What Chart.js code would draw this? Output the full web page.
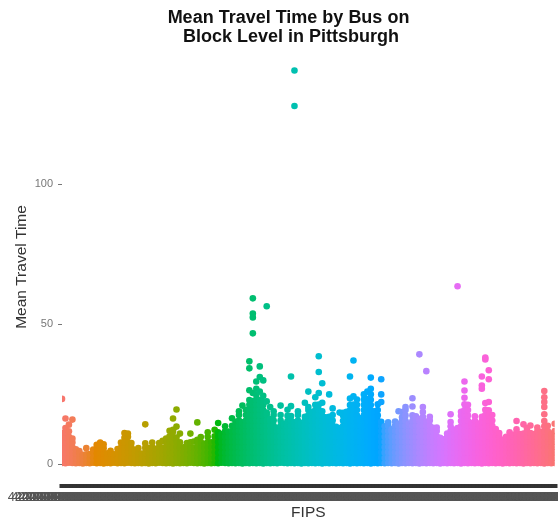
<!DOCTYPE html>
<html>
<head>
<meta charset="utf-8">
<script src="https://cdn.jsdelivr.net/npm/chart.js@4.4.1/dist/chart.umd.min.js"></script>
<style>
  html, body { margin: 0; padding: 0; background: #ffffff; }
  #wrap { width: 558px; height: 524px; }
</style>
</head>
<body>
<div id="wrap"><canvas id="chart" width="558" height="524"></canvas></div>
<script>
// Heading, axis titles and tick values
const titleLines = ["Mean Travel Time by Bus on", " Block Level in Pittsburgh"];
const xTitle = "FIPS";
const yTitle = "Mean Travel Time";
const yTicks = [0, 50, 100];

// Census tracts, in FIPS order (Allegheny County, PA)
const tracts = [
  "010300","020100","020300","030500","040200","040400","040500","040600","040900","050100",
  "050600","050900","051000","051100","060300","060500","070300","070500","070600","070800",
  "070900","080200","080400","080600","080700","080900","090100","090200","090300","100500",
  "101100","101400","101600","101700","101800","110200","110600","111300","111400","111500",
  "120300","120400","120700","120800","130100","130200","130300","130400","130600","130700",
  "130800","130900","140100","140200","140300","140400","140500","140800","141000","141100",
  "141200","141300","141400","150300","160300","160700","160800","160900","161000","161100",
  "161300","161400","161600","161800","170200","170600","180100","180300","180700","190300",
  "190500","191100","191500","191600","191700","191800","191900","192000","201300","201800",
  "202200","202300","202700","203000","204000","206300","210500","210600","210800","220600",
  "230600","240600","250300","250700","250800","250900","261100","261300","261400","261500",
  "262000","270100","270300","270400","270500","270600","271800","271900","280100","280400",
  "280500","280700","290100","290400","300100","300200","305000","310300","320400","320600",
  "320800","321000","321200","321400","321500","321600","321700","561000","562300","562600",
  "562800","562900","563000"
];
const fipsLabels = tracts.map(t => "42003" + t + "1000");

// Mean travel time (minutes) of the blocks in each FIPS group
const travelTime = [
  "0.5 2.4 4.3 6.1 8 9.8 11.2 23.4",
  "0.4 2.2 4.1 6 7.9 9.7 11.5 13 16.4",
  "0.6 2.5 4.4 6.2 8.1 9.9 11.8 14.2",
  "0.5 2.3 4.2 6.1 7.8 9.2 16",
  "0.4 2.1 3.9 5.4",
  "0.5 2.3 4.0 4.8",
  "0.3 2.1 3.4",
  "0.5 2.2 3.6 5.8",
  "0.4 2.1 3.7",
  "0.6 2.4 4.2 5.3",
  "0.4 2.2 4.0 5.6 7.0",
  "0.5 2.3 4.1 5.9 7.8",
  "0.3 2.1 3.9 5.8 7.2",
  "0.5 2.4 4.0",
  "0.4 2.2 3.9 4.9",
  "0.6 2.3 3.6",
  "0.4 2.2 4.0 5.5",
  "0.5 2.3 4.1 6.0 7.8",
  "0.4 2.2 4.1 6.0 7.9 9.5 11.2",
  "0.6 2.4 4.3 6.1 8.0 9.9 11.0",
  "0.5 2.3 4.2 6.0 7.6",
  "0.4 2.2 4.0 5.2",
  "0.5 2.3 4.0 5.8",
  "0.4 2.1 3.9",
  "0.5 2.3 4.1 5.9 7.5 14.3",
  "0.3 2.2 4.0 5.8",
  "0.5 2.3 4.2 6.1 7.8",
  "0.4 2.2 4.0 5.6",
  "0.6 2.4 4.3 6.2 7.6",
  "0.5 2.3 4.1 6.0 8.4",
  "0.4 2.2 4.1 6.0 7.9 9.2",
  "0.5 2.4 4.3 6.2 8.1 10.0 12.0",
  "0.3 2.2 4.1 6.0 7.9 9.8 11.7 12.4 16.4",
  "0.5 2.4 4.3 6.2 8.1 9.6 13.5 19.6",
  "0.4 2.3 4.1 6.0 7.9 11.0",
  "0.5 2.3 4.2 6.1",
  "0.4 2.2 4.0 5.9 7.6",
  "0.6 2.4 4.3 6.2 7.9 11.0",
  "0.5 2.3 4.2 6.0 8.2",
  "0.4 2.2 4.1 6.0 7.9 8.8 15.0",
  "0.5 2.4 4.3 6.2 8.0 9.8",
  "0.3 2.2 4.0 5.9 7.4",
  "0.5 2.3 4.2 6.1 8.0 9.9 11.5",
  "0.4 2.2 4.1 6.0 7.9",
  "0.5 2.4 4.3 6.2 8.1 10.0 12.4",
  "0.4 2.3 4.2 6.1 8.0 9.9 11.5 14.8",
  "0.6 2.4 4.3 6.2 8.1 10.0 10.8",
  "0.5 2.3 4.2 6.1 8.0 9.9 11.8 13.6",
  "0.4 2.2 4.1 6.0 7.9 9.8 11.7",
  "0.5 2.4 4.3 6.2 8.1 10.0 11.9 13.8 16.5",
  "0.4 2.3 4.2 6.1 8.0 9.9 11.8 13.7 15.2",
  "0.5 2.4 4.3 6.2 8.1 10.0 11.9 13.8 15.7 17.6 19.0",
  "0.3 2.2 4.1 6.0 7.9 9.8 11.7 13.6 15.0 21.0",
  "0.5 2.4 4.3 6.2 8.1 10.0 11.9 13.8 15.7 17.6 19.5",
  "0.4 2.3 4.2 6.1 8.0 9.9 11.8 13.7 15.6 17.5 19.4 21.3 23.0 26.5 34.3 36.8",
  "0.5 2.4 4.3 6.2 8.1 10.0 11.9 13.8 15.7 17.6 19.5 21.4 22.6 25.5 46.8 52.5 53.9 59.3",
  "0.4 2.3 4.2 6.1 8.0 9.9 11.8 13.7 15.6 17.5 19.4 21.3 23.2 24.8 27.0 29.6",
  "0.5 2.4 4.3 6.2 8.1 10.0 11.9 13.8 15.7 17.6 19.5 21.4 23.0 26.0 31.2 35.0",
  "0.3 2.2 4.1 6.0 7.9 9.8 11.7 13.6 15.5 17.4 19.3 21.2 22.5 24.5 30.0",
  "0.5 2.4 4.3 6.2 8.1 10.0 11.9 13.8 15.7 17.6 18.5 22.5 56.5",
  "0.4 2.3 4.2 6.1 8.0 9.9 11.8 13.7 15.6 16.2 20.5",
  "0.5 2.4 4.3 6.2 8.1 10.0 11.9 13.8 15.7 17.6 19.0",
  "0.4 2.3 4.2 6.1 8.0 9.9 11.8 13.0",
  "0.6 2.4 4.3 6.2 8.1 10.0 11.9 13.8 15.7 17.6 21.0",
  "0.5 2.3 4.2 6.1 8.0 9.9 11.8 13.7 14.5",
  "0.4 2.2 4.1 6.0 7.9 9.8 11.7 13.6 15.5 17.4 19.5",
  "0.5 2.4 4.3 6.2 8.1 10.0 11.9 13.8 15.7 17.3 20.8 31.4",
  "0.4 2.3 4.2 6.1 8.0 9.9 11.8 13.7 15.0 128 140.7",
  "0.5 2.4 4.3 6.2 8.1 10.0 11.9 13.8 15.7 17.6 19.0",
  "0.3 2.2 4.1 6.0 7.9 9.8 11.7 13.6 14.8",
  "0.5 2.4 4.3 6.2 8.1 10.0 11.9 13.8 15.7 17.0 22.0",
  "0.4 2.3 4.2 6.1 8.0 9.9 11.8 13.7 15.6 17.5 19.4 20.5 26.0",
  "0.5 2.4 4.3 6.2 8.1 10.0 11.9 13.8 15.7 17.6 18.6",
  "0.4 2.3 4.2 6.1 8.0 9.9 11.8 13.7 15.6 17.5 19.4 21.3 24.0",
  "0.5 2.4 4.3 6.2 8.1 10.0 11.9 13.8 15.7 17.6 19.5 21.4 25.5 33.0 38.6",
  "0.3 2.2 4.1 6.0 7.9 9.8 11.7 13.6 15.5 17.4 19.0 22.0 29.0",
  "0.5 2.4 4.3 6.2 8.1 10.0 11.9 13.8 15.7 16.8",
  "0.4 2.3 4.2 6.1 8.0 9.9 11.8 13.7 15.6 17.0 25.0",
  "0.5 2.4 4.3 6.2 8.1 10.0 11.9 13.8 15.7 17.6 20.0",
  "0.4 2.3 4.2 6.1 8.0 9.9 11.8 13.4",
  "0.5 2.4 4.3 6.2 8.1 10.0 11.9 13.0 18.5",
  "0.4 2.3 4.2 6.1 8.0 9.9 11.8 13.7 15.6 17.5 18.4",
  "0.5 2.4 4.3 6.2 8.1 10.0 11.9 13.8 15.7 17.6 18.8",
  "0.3 2.2 4.1 6.0 7.9 9.8 11.7 13.6 15.5 17.4 19.3 21.2 23.5 31.4",
  "0.5 2.4 4.3 6.2 8.1 10.0 11.9 13.8 15.7 17.6 19.5 21.4 24.3 37.1",
  "0.4 2.3 4.2 6.1 8.0 9.9 11.8 13.7 15.6 17.5 19.4 21.3 23.2",
  "0.5 2.4 4.3 6.2 8.1 10.0 11.9 13.8 15.7 16.5",
  "0.4 2.3 4.2 6.1 8.0 9.9 11.8 13.7 15.6 17.5 19.4 21.3 23.2 25.0",
  "0.5 2.4 4.3 6.2 8.1 10.0 11.9 13.8 15.7 17.6 19.5 21.4 23.3 26.0",
  "0.3 2.2 4.1 6.0 7.9 9.8 11.7 13.6 15.5 17.4 19.3 21.2 23.1 25.0 27.0 31.0",
  "0.5 2.4 4.3 6.2 8.1 10.0 11.9 13.8 15.7 17.6 19.0",
  "0.4 2.3 4.2 6.1 8.0 9.9 11.8 13.7 15.6 17.5 19.4 21.5",
  "0.5 2.4 4.3 6.2 8.1 10.0 11.9 13.8 15.2 22.3 25.0 30.4",
  "0.4 2.3 4.2 6.1 8.0 9.9 11.8 13.6",
  "0.5 2.4 4.3 6.2 8.1 10.0 11.9 13.8 15.0",
  "0.4 2.3 4.2 6.1 8.0 9.9 11.8 12.5",
  "0.5 2.4 4.3 6.2 8.1 10.0 11.9 13.8 15.3",
  "0.3 2.2 4.1 6.0 7.9 9.8 11.7 13.6 14.5 19.0",
  "0.5 2.4 4.3 6.2 8.1 10.0 11.9 13.8 15.7 16.8 18.7",
  "0.4 2.3 4.2 6.1 8.0 9.9 11.8 13.7 15.6 17.5 19.4 20.5",
  "0.5 2.4 4.3 6.2 8.1 10.0 11.9 13.8 14.6",
  "0.4 2.3 4.2 6.1 8.0 9.9 11.8 13.7 15.6 17.5 20.7 23.6",
  "0.5 2.4 4.3 6.2 8.1 10.0 11.9 13.8 15.7 17.2",
  "0.3 2.2 4.1 6.0 7.9 9.8 11.7 13.6 15.5 16.2 39.3",
  "0.5 2.4 4.3 6.2 8.1 10.0 11.9 13.8 15.7 17.0 18.7 20.5",
  "0.4 2.3 4.2 6.1 8.0 9.9 11.8 13.7 15.3 33.3",
  "0.5 2.4 4.3 6.2 8.1 10.0 11.9 13.8 15.7 17.0",
  "0.4 2.3 4.2 6.1 8.0 9.9 11.8 13.1",
  "0.5 2.4 4.3 6.2 8.1 10.0 11.9 13.2",
  "0.3 2.2 4.1 6.0 7.9 9.5",
  "0.5 2.4 4.3 6.2 8.1 9.0",
  "0.4 2.3 4.2 6.1 8.0 9.9 11.0",
  "0.5 2.4 4.3 6.2 8.1 10.0 11.9 13.6 15.1 17.9",
  "0.4 2.3 4.2 6.1 8.0 9.9 11.8 12.4",
  "0.5 2.4 4.3 6.2 8.1 10.0 11.9 13.0 63.6",
  "0.3 2.2 4.1 6.0 7.9 9.8 11.7 13.6 15.5 17.4 18.8",
  "0.5 2.4 4.3 6.2 8.1 10.0 11.9 13.8 15.7 17.6 19.4 21.5 23.8 26.4 29.6",
  "0.4 2.3 4.2 6.1 8.0 9.9 11.8 13.7 15.6 17.5 19.4 21.3",
  "0.5 2.4 4.3 6.2 8.1 10.0 11.9 13.8 14.8",
  "0.4 2.3 4.2 6.1 8.0 9.9 11.8 13.7 15.6 17.2",
  "0.5 2.4 4.3 6.2 8.1 10.0 11.9 13.8 14.6",
  "0.3 2.2 4.1 6.0 7.9 9.8 11.7 13.6 15.5 17.0 27.0 28.2 31.4",
  "0.5 2.4 4.3 6.2 8.1 10.0 11.9 13.8 15.7 17.6 19.5 21.9 37.5 38.2",
  "0.4 2.3 4.2 6.1 8.0 9.9 11.8 13.7 15.6 17.5 19.3 22.3 30.4 33.6",
  "0.5 2.4 4.3 6.2 8.1 10.0 11.9 13.8 15.7 17.6",
  "0.4 2.3 4.2 6.1 8.0 9.9 11.8 12.6",
  "0.5 2.4 4.3 6.2 8.1 10.0 11.2",
  "0.3 2.2 4.1 6.0 7.9 8.8",
  "0.5 2.4 4.3 6.2 8.1 9.9",
  "0.4 2.3 4.2 6.1 8.0 9.9 11.5",
  "0.5 2.4 4.3 6.2 8.1 10.0 10.6",
  "0.4 2.3 4.2 6.1 8.0 9.9 11.2 12.5 15.5",
  "0.5 2.4 4.3 6.2 8.1 10.0 10.8",
  "0.3 2.2 4.1 6.0 7.9 9.8 11.0 14.3",
  "0.5 2.4 4.3 6.2 8.1 10.0 11.9 13.0",
  "0.4 2.3 4.2 6.1 8.0 9.9 11.2 13.9",
  "0.5 2.4 4.3 6.2 8.1 10.0 10.8",
  "0.4 2.3 4.2 6.1 8.0 9.9 11.8 13.2",
  "0.5 2.4 4.3 6.2 8.1 10.0 11.6",
  "0.3 2.2 4.1 6.0 7.9 9.8 11.7 13.6 15.5 17.9 20.5 22.3 24.0 26.2",
  "0.5 2.4 4.3 6.2 8.1 10.0 11.9 13.8",
  "0.4 2.3 4.2 6.1 8.0 9.9 11.0",
  "0.5 2.4 4.3 6.2 8.1 10.0 11.9 14.5"
];

// One point per block, placed at its FIPS group's position
const points = [];
travelTime.forEach((col, i) => {
  col.trim().split(/\s+/).forEach(v => points.push({ x: i, y: parseFloat(v) }));
});

// Polar-Luv (HCL) to sRGB, the default discrete hue scale (c = 100, l = 65)
function hclColor(h, c, l) {
  const rad = h * Math.PI / 180;
  const U = c * Math.cos(rad), V = c * Math.sin(rad);
  const Y = l > 8 ? Math.pow((l + 16) / 116, 3) : l / 903.3;
  const un = 0.1978398, vn = 0.4683363;
  const up = U / (13 * l) + un, vp = V / (13 * l) + vn;
  const X = Y * 9 * up / (4 * vp);
  const Z = Y * (12 - 3 * up - 20 * vp) / (4 * vp);
  const lin = [
     3.240479 * X - 1.537150 * Y - 0.498535 * Z,
    -0.969256 * X + 1.875992 * Y + 0.041556 * Z,
     0.055648 * X - 0.204043 * Y + 1.057311 * Z
  ];
  const rgb = lin.map(t => {
    const g = t <= 0.0031308 ? 12.92 * t : 1.055 * Math.pow(t, 1 / 2.4) - 0.055;
    return Math.round(Math.min(1, Math.max(0, g)) * 255);
  });
  return `rgb(${rgb[0]},${rgb[1]},${rgb[2]})`;
}
const groupColors = fipsLabels.map((_, i) => hclColor(15 + 360 * i / fipsLabels.length, 100, 65));

const FONT = '"Liberation Sans", Arial, Helvetica, sans-serif';

// Two-line bold heading above the panel
const headingPlugin = {
  id: 'heading',
  afterDraw(chart) {
    const c = chart.ctx;
    c.save();
    c.font = 'bold 18px ' + FONT;
    c.fillStyle = '#111111';
    c.textAlign = 'center';
    c.textBaseline = 'alphabetic';
    c.fillText(titleLines[0], 288.5, 23.3);
    c.fillText(titleLines[1], 288.5, 41.7);
    c.restore();
  }
};

new Chart(document.getElementById('chart'), {
  type: 'scatter',
  data: {
    datasets: [{
      data: points,
      pointRadius: 3.3,
      pointHoverRadius: 3.3,
      borderWidth: 0,
      pointBorderWidth: 0,
      backgroundColor: ctx => groupColors[ctx.raw ? ctx.raw.x : 0]
    }]
  },
  options: {
    responsive: false,
    animation: false,
    devicePixelRatio: 1,
    events: [],
    layout: { padding: { top: 50, left: 0, right: 0, bottom: 0 } },
    plugins: {
      legend: { display: false },
      tooltip: { enabled: false },
      title: { display: false }
    },
    scales: {
      x: {
        type: 'linear',
        min: 0,
        max: fipsLabels.length - 1,
        afterBuildTicks: s => { s.ticks = fipsLabels.map((_, i) => ({ value: i })); },
        afterFit: s => { s.height = 40; s.paddingLeft = 0; s.paddingRight = 0; },
        ticks: {
          autoSkip: false,
          maxRotation: 0,
          minRotation: 0,
          padding: 2,
          color: '#555555',
          font: { family: FONT, size: 13 },
          callback: v => fipsLabels[Math.round(v)]
        },
        grid: { drawOnChartArea: false, drawTicks: true, tickLength: 4, tickWidth: 6, tickColor: '#333333' },
        border: { display: false },
        title: {
          display: true, text: xTitle, color: '#333333',
          font: { family: FONT, size: 15.5 },
          padding: { top: 0, bottom: 2.2 }
        }
      },
      y: {
        min: -7,
        max: 148,
        afterBuildTicks: s => { s.ticks = yTicks.map(v => ({ value: v })); },
        afterFit: s => { s.width = 62; },
        ticks: { padding: 5, color: '#777777', font: { family: FONT, size: 11 } },
        grid: { drawOnChartArea: false, drawTicks: true, tickLength: 4, tickWidth: 1, tickColor: '#777777' },
        border: { display: false },
        title: {
          display: true, text: yTitle, color: '#333333',
          font: { family: FONT, size: 15.5 },
          padding: { top: 12, bottom: 0 }
        }
      }
    }
  },
  plugins: [headingPlugin]
});
</script>
</body>
</html>
